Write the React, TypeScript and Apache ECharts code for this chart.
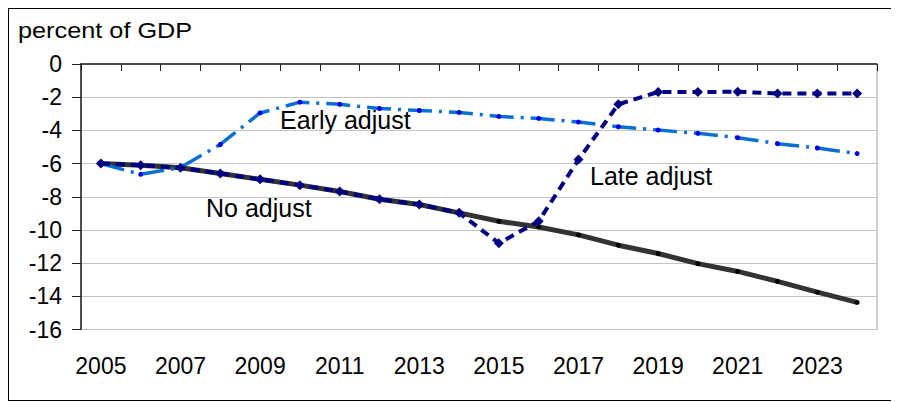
import React, { useEffect, useRef } from "react";
import * as echarts from "echarts";

const years = [
  "2005", "2006", "2007", "2008", "2009", "2010", "2011", "2012", "2013", "2014",
  "2015", "2016", "2017", "2018", "2019", "2020", "2021", "2022", "2023", "2024",
];

const noAdjust = [
  -6.0, -6.1, -6.25, -6.6, -6.95, -7.3, -7.68, -8.15, -8.47, -8.97,
  -9.48, -9.82, -10.3, -10.92, -11.42, -12.03, -12.5, -13.1, -13.75, -14.37,
];

const lateAdjust = [
  -6.0, -6.1, -6.25, -6.6, -6.95, -7.3, -7.68, -8.15, -8.47, -8.97,
  -10.8, -9.47, -5.76, -2.43, -1.69, -1.69, -1.67, -1.78, -1.78, -1.78,
];

const earlyAdjust = [
  -6.0, -6.65, -6.24, -4.85, -2.95, -2.3, -2.43, -2.68, -2.8, -2.92,
  -3.16, -3.28, -3.5, -3.78, -3.98, -4.18, -4.44, -4.8, -5.06, -5.4,
];

const yMin = -16;
const yMax = 0;
const yStep = 2;

const FONT = "'Liberation Sans', Arial, Helvetica, sans-serif";

export default function App() {
  const ref = useRef<HTMLDivElement>(null);

  useEffect(() => {
    if (!ref.current) return;
    const chart = echarts.init(ref.current, null, { renderer: "svg" });
    chart.setOption({
      animation: false,
      textStyle: { fontFamily: FONT },
      grid: {
        left: 72,
        right: 20,
        top: 55,
        bottom: 70.5,
        show: true,
        borderColor: "#a0a0a0",
        borderWidth: 1,
        backgroundColor: "transparent",
      },
      xAxis: [
        {
          type: "category",
          data: years,
          position: "bottom",
          boundaryGap: true,
          axisLine: { show: false },
          axisTick: { show: false },
          axisLabel: {
            interval: 1,
            margin: 25,
            fontSize: 23,
            color: "#000",
            fontFamily: FONT,
          },
          splitLine: { show: false },
        },
        {
          type: "category",
          data: years,
          position: "top",
          boundaryGap: true,
          axisLine: { show: true, lineStyle: { color: "#222", width: 1.5 } },
          axisTick: {
            show: true,
            inside: true,
            length: 7,
            interval: 0,
            lineStyle: { color: "#222", width: 1 },
          },
          axisLabel: { show: false },
          splitLine: { show: false },
        },
      ],
      yAxis: {
        type: "value",
        min: yMin,
        max: yMax,
        interval: yStep,
        axisLine: { show: true, lineStyle: { color: "#222", width: 1.5 } },
        axisTick: { show: true, length: 9, lineStyle: { color: "#222", width: 1 } },
        axisLabel: {
          margin: 19,
          fontSize: 23,
          color: "#000",
          fontFamily: FONT,
        },
        splitLine: { show: true, lineStyle: { color: "#c4c4c4", width: 1 } },
      },
      series: [
        {
          name: "No adjust",
          type: "line",
          data: noAdjust,
          z: 2,
          lineStyle: { color: "#333333", width: 5, type: "solid" },
          symbol: "circle",
          symbolSize: 5,
          itemStyle: { color: "#000000" },
        },
        {
          name: "Early adjust",
          type: "line",
          data: earlyAdjust,
          z: 3,
          lineStyle: { color: "#0a6fd0", width: 3.5, type: [24, 7, 3, 7] },
          symbol: "circle",
          symbolSize: 5,
          itemStyle: { color: "#0000ee" },
        },
        {
          name: "Late adjust",
          type: "line",
          data: lateAdjust,
          z: 4,
          lineStyle: { color: "#000080", width: 4, type: [9, 6] },
          symbol: "diamond",
          symbolSize: 10,
          itemStyle: { color: "#000080" },
        },
      ],
      graphic: [
        {
          type: "text",
          x: 9,
          y: 21.5,
          scaleX: 1.15,
          style: {
            text: "percent of GDP",
            font: `22px ${FONT}`,
            fill: "#000",
            verticalAlign: "middle",
            align: "left",
          },
        },
        {
          type: "text",
          x: 271,
          y: 111,
          z: 10,
          style: {
            text: "Early adjust",
            font: `25px ${FONT}`,
            fill: "#000",
            verticalAlign: "middle",
            align: "left",
          },
        },
        {
          type: "text",
          x: 197,
          y: 199,
          z: 10,
          style: {
            text: "No adjust",
            font: `25px ${FONT}`,
            fill: "#000",
            verticalAlign: "middle",
            align: "left",
          },
        },
        {
          type: "text",
          x: 581,
          y: 167,
          z: 10,
          style: {
            text: "Late adjust",
            font: `25px ${FONT}`,
            fill: "#000",
            verticalAlign: "middle",
            align: "left",
          },
        },
      ],
    });
    return () => chart.dispose();
  }, []);

  return (
    <div
      style={{
        position: "relative",
        width: 890,
        height: 393,
        border: "1px solid #000",
        boxSizing: "border-box",
        background: "#fff",
      }}
    >
      <div ref={ref} style={{ position: "absolute", left: 0, top: 0, width: 888, height: 391 }} />
    </div>
  );
}
